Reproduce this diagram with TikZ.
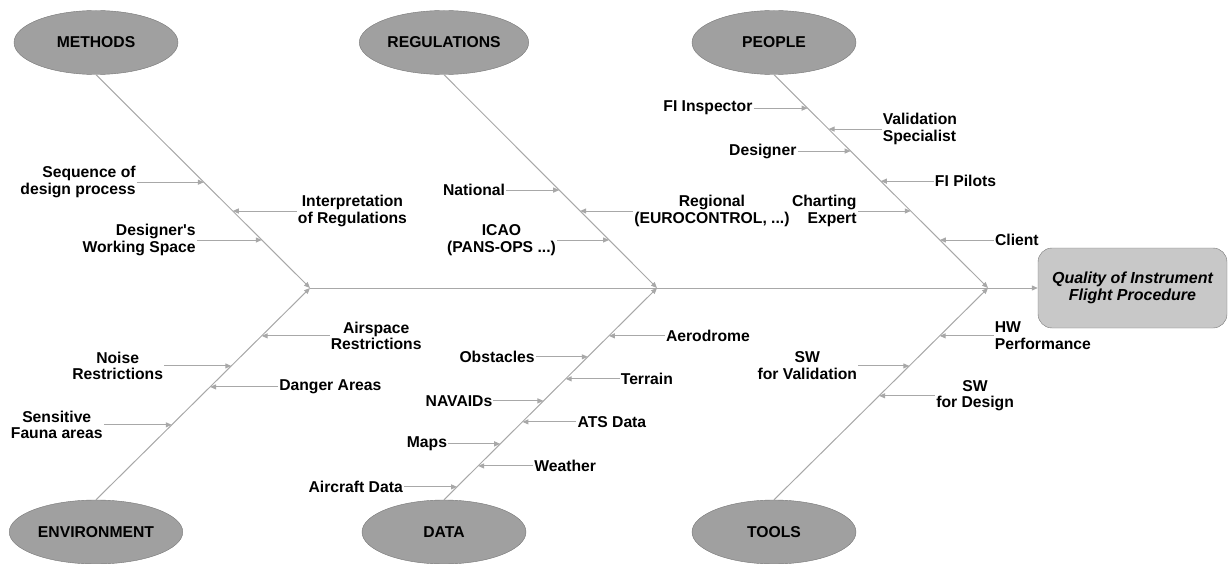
\documentclass[tikz,border=0pt]{standalone}
\usepackage{fontspec}
\setmainfont{Liberation Sans}
\usetikzlibrary{shapes.geometric,arrows.meta,positioning}
\definecolor{bonegray}{RGB}{168,168,168}
\definecolor{capgray}{RGB}{160,160,160}
\definecolor{boxgray}{RGB}{200,200,200}
\definecolor{rimgray}{RGB}{118,118,118}

\begin{document}
\begin{tikzpicture}
  [x=1pt,y=-1pt,
   every node/.style={font=\bfseries\fontsize{15.7}{16.7}\selectfont},
   cause/.style={ellipse,draw=rimgray,fill=capgray,minimum width=164pt,minimum height=64pt},
   effect/.style={draw=rimgray,fill=boxgray,rounded corners=14pt,minimum width=189pt,minimum height=80pt,
     align=center,font=\bfseries\itshape\fontsize{16}{17}\selectfont},
   bone/.style={draw=bonegray,line width=1pt,-{Triangle[length=6pt,width=5pt]}},
   sub/.style={draw=bonegray,line width=1pt,-{Triangle[length=6pt,width=5pt]}},
   lbl/.style={inner sep=1pt}]
  \useasboundingbox (0,0) rectangle (1228,564);

  % main causes
  \node[cause] (methods) at (96,42.5) {METHODS};
  \node[cause] (regs) at (444,42.5) {REGULATIONS};
  \node[cause] (people) at (774,42.5) {PEOPLE};
  \node[cause] (env) at (96,532) {ENVIRONMENT};
  \node[cause] (data) at (444,532) {DATA};
  \node[cause] (tools) at (774,532) {TOOLS};

  % effect
  \node[effect] (quality) at (1132.5,288) {Quality of Instrument\\Flight Procedure};

  \coordinate (jm) at (310,288);
  \coordinate (jr) at (657,288);
  \coordinate (jp) at (988,288);

  % spine
  \draw[bone] (jm) -- (quality);

  % bones
  \draw[bone] (methods.south) -- (jm) coordinate[pos=.504] (m1) coordinate[pos=.639] (m2) coordinate[pos=.775] (m3);
  \draw[bone] (regs.south) -- (jr) coordinate[pos=.541] (r1) coordinate[pos=.639] (r2) coordinate[pos=.775] (r3);
  \draw[bone] (people.south) -- (jp) coordinate[pos=.157] (p1) coordinate[pos=.255] (p2) coordinate[pos=.358] (p3)
    coordinate[pos=.499] (p4) coordinate[pos=.639] (p5) coordinate[pos=.775] (p6);
  \draw[bone] (env.north) -- (jm) coordinate[pos=.774] (e1) coordinate[pos=.632] (e2) coordinate[pos=.533] (e3)
    coordinate[pos=.354] (e4);
  \draw[bone] (data.north) -- (jr) coordinate[pos=.774] (d1) coordinate[pos=.675] (d2) coordinate[pos=.571] (d3)
    coordinate[pos=.467] (d4) coordinate[pos=.368] (d5) coordinate[pos=.264] (d6) coordinate[pos=.160] (d7)
    coordinate[pos=.061] (d8);
  \draw[bone] (tools.north) -- (jp) coordinate[pos=.774] (t1) coordinate[pos=.632] (t2) coordinate[pos=.491] (t3);

  % methods
  \node[lbl,align=right,left=67pt of m1] (seqdes) {Sequence of\\design process};
  \node[lbl,align=center,right=64pt of m2] (interp) {Interpretation\\of Regulations};
  \node[lbl,align=right,left=65pt of m3] (wspace) {Designer\textquotesingle s\\Working Space};
  \draw[sub] (seqdes) -- (m1);
  \draw[sub] (interp) -- (m2);
  \draw[sub] (wspace) -- (m3);

  % regulations
  \node[lbl,left=53pt of r1] (national) {National};
  \node[lbl,align=center,right=53pt of r2] (regional) {Regional\\(EUROCONTROL, ...)};
  \node[lbl,align=center,left=52pt of r3] (icao) {ICAO\\(PANS-OPS ...)};
  \draw[sub] (national) -- (r1);
  \draw[sub] (regional) -- (r2);
  \draw[sub] (icao) -- (r3);

  % people
  \node[lbl,left=54pt of p1] (inspector) {FI Inspector};
  \node[lbl,align=left,right=53pt of p2] (valspec) {Validation\\Specialist};
  \node[lbl,left=53pt of p3] (designer) {Designer};
  \node[lbl,right=53pt of p4] (pilots) {FI Pilots};
  \node[lbl,align=right,left=53pt of p5] (charting) {Charting\\Expert};
  \node[lbl,right=54pt of p6] (client) {Client};
  \draw[sub] (inspector) -- (p1);
  \draw[sub] (valspec) -- (p2);
  \draw[sub] (designer) -- (p3);
  \draw[sub] (pilots) -- (p4);
  \draw[sub] (charting) -- (p5);
  \draw[sub] (client) -- (p6);

  % environment
  \node[lbl,align=center,right=68pt of e1] (airspace) {Airspace\\Restrictions};
  \node[lbl,align=center,left=67pt of e2] (noise) {Noise\\Restrictions};
  \node[lbl,right=68pt of e3] (danger) {Danger Areas};
  \node[lbl,align=center,left=68pt of e4] (fauna) {Sensitive\\Fauna areas};
  \draw[sub] (airspace) -- (e1);
  \draw[sub] (noise) -- (e2);
  \draw[sub] (danger) -- (e3);
  \draw[sub] (fauna) -- (e4);

  % data
  \node[lbl,right=56pt of d1] (aerodrome) {Aerodrome};
  \node[lbl,left=52pt of d2] (obstacles) {Obstacles};
  \node[lbl,right=54pt of d3] (terrain) {Terrain};
  \node[lbl,left=50pt of d4] (navaids) {NAVAIDs};
  \node[lbl,right=54pt of d5] (ats) {ATS Data};
  \node[lbl,left=52pt of d6] (maps) {Maps};
  \node[lbl,right=55pt of d7] (weather) {Weather};
  \node[lbl,left=53pt of d8] (aircraft) {Aircraft Data};
  \draw[sub] (aerodrome) -- (d1);
  \draw[sub] (obstacles) -- (d2);
  \draw[sub] (terrain) -- (d3);
  \draw[sub] (navaids) -- (d4);
  \draw[sub] (ats) -- (d5);
  \draw[sub] (maps) -- (d6);
  \draw[sub] (weather) -- (d7);
  \draw[sub] (aircraft) -- (d8);

  % tools
  \node[lbl,align=left,right=54pt of t1] (hw) {HW\\Performance};
  \node[lbl,align=center,left=51pt of t2] (swval) {SW\\for Validation};
  \node[lbl,align=center,right=56pt of t3] (swdes) {SW\\for Design};
  \draw[sub] (hw) -- (t1);
  \draw[sub] (swval) -- (t2);
  \draw[sub] (swdes) -- (t3);
\end{tikzpicture}
\end{document}
